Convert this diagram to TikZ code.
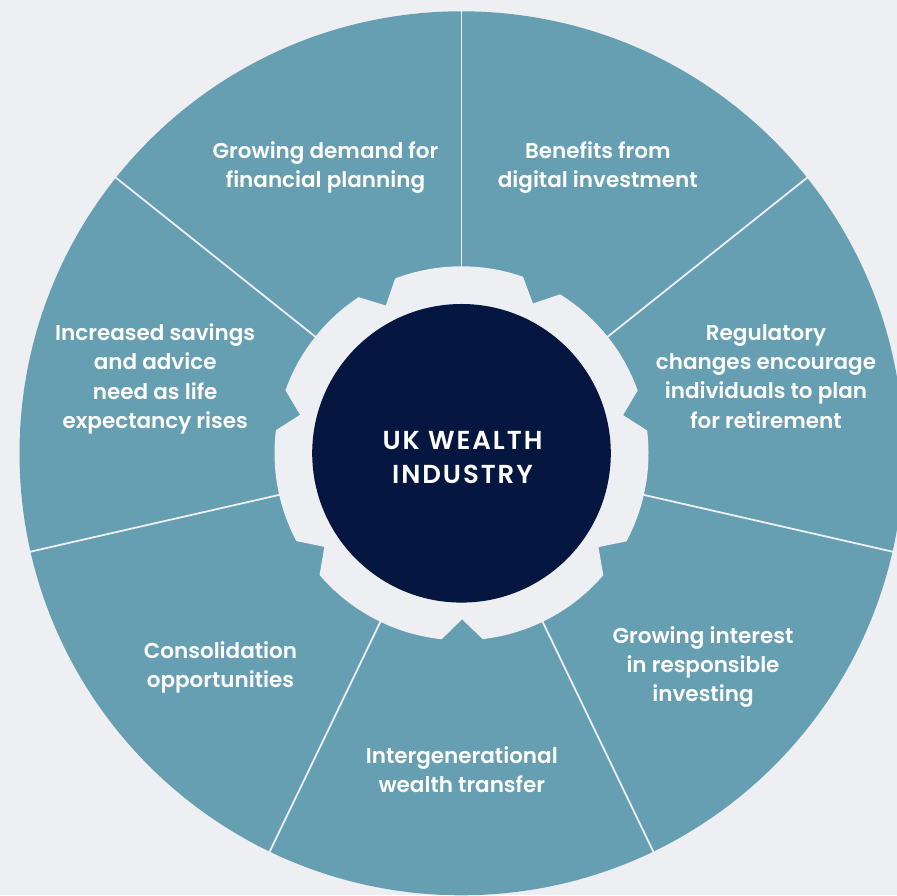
\documentclass[tikz,border=0pt]{standalone}
\usepackage{fontspec}
\setmainfont{Poppins}
\newfontfamily\labelfont{Poppins SemiBold}
\newfontfamily\hubfont{Poppins SemiBold}[LetterSpace=7.5]
\definecolor{bgc}{HTML}{EDEFF3}
\definecolor{segc}{HTML}{669FB2}
\definecolor{navyc}{HTML}{051740}
\begin{document}
\begin{tikzpicture}[x=1pt,y=1pt,
  seglabel/.style={text=white, align=center, inner sep=0pt,
    font=\labelfont\fontsize{21.5}{29.2}\selectfont},
  hublabel/.style={text=white, align=center, inner sep=0pt,
    font=\hubfont\fontsize{26}{33.3}\selectfont},
  divider/.style={draw=bgc, line width=1.8pt}]
\fill[bgc] (0,0) rectangle (897,895);
\useasboundingbox (0,0) rectangle (897,895);
\clip (0,0) rectangle (897,895);
\coordinate (C) at (461.5,441.7);
% outer disc
\fill[segc] (C) circle[radius=442];
% dividers
\foreach \a in {90,38.571,-12.857,-64.286,-115.714,-167.143,141.429}
  \draw[divider] (C) -- ++(\a:450);
% gear
\begin{scope}[shift={(C)}]
\fill[bgc] (19.6:187) arc[start angle=19.6,end angle=58.2,radius=187]
  -- (64.5:166) -- (70.8:187) arc[start angle=70.8,end angle=110.8,radius=187]
  -- (117.1:166) -- (123.4:187) arc[start angle=123.4,end angle=160.3,radius=187]
  -- (166.6:166) -- (172.9:187) arc[start angle=172.9,end angle=208,radius=187]
  -- (214.3:166) -- (220.6:187) arc[start angle=220.6,end angle=263.9,radius=187]
  -- (270.2:166) -- (276.5:187) arc[start angle=276.5,end angle=319.3,radius=187]
  -- (325.6:166) -- (331.9:187) arc[start angle=331.9,end angle=367,radius=187]
  -- (373.3:166) -- cycle;
\end{scope}
% hub
\node[circle, fill=navyc, minimum size=298.6pt, inner sep=0pt] (hub) at (C) {};
\node[hublabel] (hubtext) at (462.5,437.5) {UK WEALTH\\INDUSTRY};
% segment labels
\node[seglabel] (l1) at (325.5,727.7) {Growing demand for\\financial planning};
\node[seglabel] (l2) at (597.8,727.7) {Benefits from\\digital investment};
\node[seglabel] (l3) at (766,518.5) {Regulatory\\changes encourage\\individuals to plan\\for retirement};
\node[seglabel] (l4) at (703,228.2) {Growing interest\\in responsible\\investing};
\node[seglabel] (l5) at (461.8,125) {Intergenerational\\wealth transfer};
\node[seglabel] (l6) at (220.5,227.7) {Consolidation\\opportunities};
\node[seglabel] (l7) at (155.2,516) {Increased savings\\and advice\\need as life\\expectancy rises};
\end{tikzpicture}
\end{document}
